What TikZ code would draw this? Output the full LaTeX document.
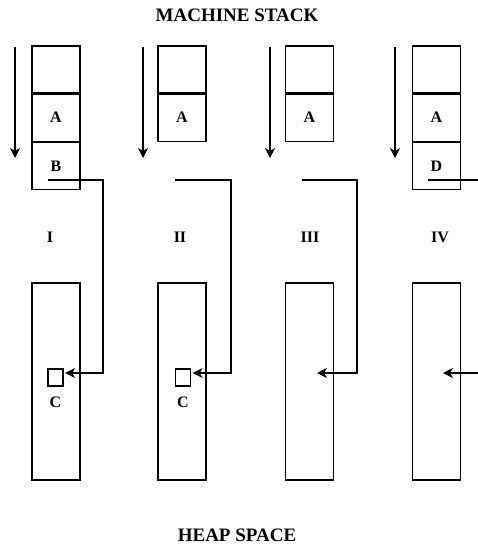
\documentclass[tikz,border=0pt]{standalone}
\usepackage{fontspec}
\setmainfont{Liberation Serif}
\usetikzlibrary{arrows.meta,positioning}
\tikzset{
  cell/.style={
    draw, line width=1.2pt, minimum width=48pt, minimum height=47pt,
    inner sep=0pt, font=\fontsize{16}{18}\selectfont\bfseries
  },
  heap/.style={draw, line width=1.2pt, minimum width=48pt, minimum height=197pt, inner sep=0pt},
  obj/.style={draw, line width=1.2pt, minimum width=15pt, minimum height=17pt, inner sep=0pt},
  lbl/.style={font=\fontsize{16}{18}\selectfont\bfseries},
  title/.style={font=\fontsize{19}{22}\selectfont\bfseries},
  growarr/.style={-{Stealth[length=10pt,width=10pt,inset=3pt]}, line width=1.2pt},
  ptr/.style={-{Stealth[length=10pt,width=10pt,inset=3pt]}, line width=1.2pt}
}
\begin{document}
\begin{tikzpicture}[x=1pt, y=-1pt]
  \useasboundingbox (0,0) rectangle (478,549);
  \node[title] (ms) at (237,15) {MACHINE STACK};
  \node[title] (hs) at (237,535) {HEAP SPACE};
  % stacks
  \node[cell] (s1a) at (56,69.5) {};
  \node[cell, below=0pt of s1a] (s1b) {A};
  \node[cell, below=0pt of s1b] (s1c) {B};
  \node[cell] (s2a) at (182,69.5) {};
  \node[cell, below=0pt of s2a] (s2b) {A};
  \node[cell] (s3a) at (309.5,69.5) {};
  \node[cell, below=0pt of s3a] (s3b) {A};
  \node[cell] (s4a) at (436.5,69.5) {};
  \node[cell, below=0pt of s4a] (s4b) {A};
  \node[cell, below=0pt of s4b] (s4c) {D};
  % growth arrows
  \coordinate (g1) at (15,47);  \coordinate (g1e) at (15,158);
  \coordinate (g2) at (143,47); \coordinate (g2e) at (143,158);
  \coordinate (g3) at (270,47); \coordinate (g3e) at (270,158);
  \coordinate (g4) at (395,47); \coordinate (g4e) at (395,158);
  \draw[growarr] (g1) -- (g1e);
  \draw[growarr] (g2) -- (g2e);
  \draw[growarr] (g3) -- (g3e);
  \draw[growarr] (g4) -- (g4e);
  % stage labels
  \node[lbl] (l1) at (50,237) {I};
  \node[lbl] (l2) at (180,237) {II};
  \node[lbl] (l3) at (310,237) {III};
  \node[lbl] (l4) at (440,237) {IV};
  % heaps
  \node[heap] (h1) at (56,381.5) {};
  \node[heap] (h2) at (182,381.5) {};
  \node[heap] (h3) at (309.5,381.5) {};
  \node[heap] (h4) at (436.5,381.5) {};
  \node[obj] (o1) at (55.5,377.5) {};
  \node[obj] (o2) at (183,377.5) {};
  \node[lbl, below=7pt of o1] (c1) {C};
  \node[lbl, below=7pt of o2] (c2) {C};
  % pointers
  \coordinate (p1) at (48,180);
  \coordinate (p2) at (175,180);
  \coordinate (p3) at (302,180);
  \coordinate (p4) at (428,180);
  \coordinate (e4) at (478,180);
  \coordinate (t3) at (317,373);
  \coordinate (t4) at (443,373);
  \coordinate (f4) at (478,373);
  \draw[ptr] (p1) -- ++(55,0) |- ([xshift=1.5pt,yshift=4.5pt]o1.east);
  \draw[ptr] (p2) -- ++(56,0) |- ([xshift=1.5pt,yshift=4.5pt]o2.east);
  \draw[ptr] (p3) -- ++(55,0) |- (t3);
  \draw[line width=1.2pt] (p4) -- (e4);
  \draw[ptr] (f4) -- (t4);
\end{tikzpicture}
\end{document}
